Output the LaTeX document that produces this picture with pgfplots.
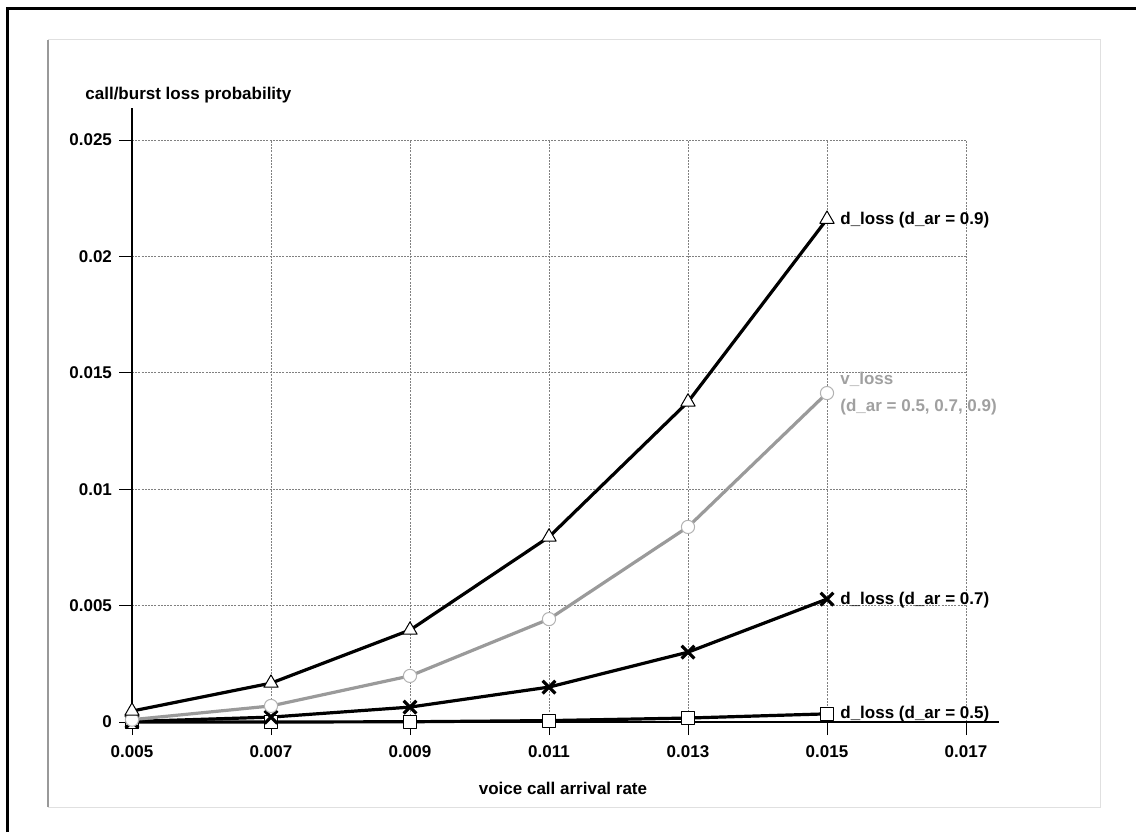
\documentclass[border=0pt]{standalone}
\usepackage{fontspec}
\setmainfont{Liberation Sans}
\usepackage{pgfplots}
\pgfplotsset{compat=1.18}
\definecolor{vgray}{HTML}{9A9A9A}
\definecolor{vtext}{HTML}{A0A0A0}
\definecolor{gridc}{HTML}{808080}
\begin{document}
\begin{tikzpicture}[x=0.5pt,y=0.5pt,font=\fontsize{8.5}{10}\selectfont\bfseries]
\path[use as bounding box] (0,0) rectangle (1136,832);
\draw[line width=1.5pt] (7,0) -- (7,823) -- (1136,823);
\draw[line width=0.5pt, color=black!12] (48,25) -- (1100,25) -- (1100,792) -- (48,792);
\draw[line width=0.8pt, color=black!40] (48,25) -- (48,792);
\coordinate (O) at (132,110);
\begin{axis}[
  at={(O)}, anchor=south west,
  scale only axis, width=417pt, height=291pt,
  xmin=0.005, xmax=0.017, ymin=0, ymax=0.025,
  clip=false,
  axis lines=left,
  axis line style={-, line width=0.9pt, black},
  x axis line style={shorten >=-16.5pt},
  y axis line style={shorten >=-16pt},
  xtick={0.005,0.007,0.009,0.011,0.013,0.015,0.017},
  xticklabels={0.005,0.007,0.009,0.011,0.013,0.015,0.017},
  ytick={0,0.005,0.01,0.015,0.02,0.025},
  yticklabels={0,0.005,0.01,0.015,0.02,0.025},
  scaled ticks=false,
  tick align=outside, major tick length=6.5pt,
  tick style={black, line width=0.5pt},
  ticklabel style={font=\fontsize{8.5}{10}\selectfont\bfseries},
  xticklabel style={yshift=-2pt},
  grid=major,
  grid style={gridc, line width=0.5pt, dash pattern=on 1pt off 0.6pt},
  line join=round,
]
\addplot[black, line width=1.6pt, mark=square*, mark size=3.3pt,
  mark options={fill=white, draw=black, line width=0.5pt}]
  coordinates {(0.005,0) (0.007,0) (0.009,0.00001) (0.011,0.00006) (0.013,0.00017) (0.015,0.00035)};
\addplot[black, line width=1.6pt, mark=x, mark size=4.5pt,
  mark options={line width=1.6pt}]
  coordinates {(0.005,0.00002) (0.007,0.00021) (0.009,0.00064) (0.011,0.0015) (0.013,0.003) (0.015,0.00528)};
\addplot[vgray, line width=1.6pt, mark=*, mark size=3.3pt,
  mark options={fill=white, draw=black!30, line width=0.5pt}]
  coordinates {(0.005,0.0001) (0.007,0.00069) (0.009,0.00198) (0.011,0.00442) (0.013,0.00838) (0.015,0.01413)};
\addplot[black, line width=1.6pt, mark=triangle*, mark size=4.1pt,
  mark options={fill=white, draw=black, line width=0.5pt}]
  coordinates {(0.005,0.00047) (0.007,0.00167) (0.009,0.00395) (0.011,0.00795) (0.013,0.01375) (0.015,0.0216)};
\end{axis}
\node[anchor=base west, inner sep=0pt] at (85,732) {call/burst loss probability};
\node[anchor=base, inner sep=0pt] at (563,38) {voice call arrival rate};
\node[anchor=base west, inner sep=0pt] at (840,608) {d\_loss (d\_ar = 0.9)};
\node[anchor=base west, inner sep=0pt] at (840,228) {d\_loss (d\_ar = 0.7)};
\node[anchor=base west, inner sep=0pt] at (840,114) {d\_loss (d\_ar = 0.5)};
\node[anchor=base west, inner sep=0pt, text=vtext] at (840,448) {v\_loss};
\node[anchor=base west, inner sep=0pt, text=vtext] at (840,421) {(d\_ar = 0.5, 0.7, 0.9)};
\end{tikzpicture}
\end{document}
